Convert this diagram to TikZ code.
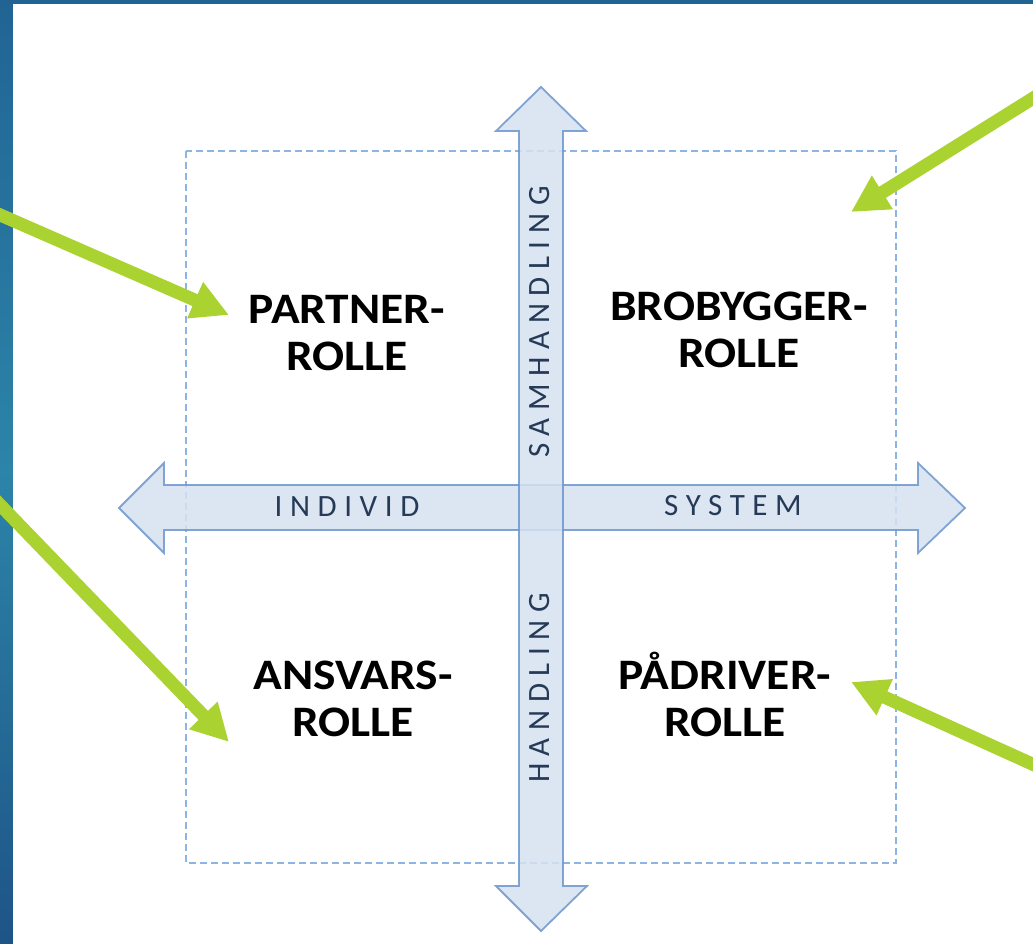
\documentclass[tikz,border=0pt]{standalone}
\usepackage{fontspec}
\setmainfont{Carlito}
\newfontfamily\axisfont[LetterSpace=24.5]{Carlito}
\usetikzlibrary{arrows.meta}
\definecolor{greenarrow}{RGB}{170,211,50}
\definecolor{blockfill}{RGB}{214,226,240}
\definecolor{blockline}{RGB}{108,150,205}
\definecolor{dashblue}{RGB}{141,180,226}
\definecolor{axistext}{RGB}{38,58,88}
\definecolor{bgtop}{RGB}{33,100,148}
\definecolor{bgmid}{RGB}{44,132,168}
\definecolor{bgbot}{RGB}{30,84,134}
\tikzset{
  pointer/.style={draw=greenarrow, line width=13pt, -{Triangle[length=37pt,width=37pt]}},
  blockarrow/.style={fill=blockfill, draw=blockline, line width=1.8pt, fill opacity=0.85, draw opacity=0.85, line join=miter},
  rolelabel/.style={font={\fontsize{43.5}{47}\selectfont\bfseries}, align=center, text=black, inner sep=0pt, xscale=1.09},
  axislabel/.style={font={\axisfont\fontsize{31}{31}\selectfont}, text=axistext, inner sep=0pt},
  quadframe/.style={draw=dashblue, line width=1.5pt, dash pattern=on 7pt off 4pt}
}
\begin{document}
\begin{tikzpicture}[x=1pt,y=-1pt]
\useasboundingbox (0,0) rectangle (1033,944);
\clip (0,0) rectangle (1033,944);
% background
\shade[top color=bgtop, bottom color=bgbot, middle color=bgmid] (0,0) rectangle (1033,944);
\fill[white] (13,4) rectangle (1033,944);
% dashed frame
\draw[quadframe] (186,151) rectangle (896,863);
% horizontal block arrow
\draw[blockarrow] (119,508) -- (164,463) -- (164,485) -- (918,485) -- (918,463) -- (965,508)
  -- (918,553) -- (918,530) -- (164,530) -- (164,553) -- cycle;
% vertical block arrow
\draw[blockarrow] (541,87) -- (586,131) -- (563,131) -- (563,886) -- (587,886) -- (541,931)
  -- (496,886) -- (519,886) -- (519,131) -- (496,131) -- cycle;
% axis labels
\node[axislabel] (individ) at (347,507) {INDIVID};
\node[axislabel] (system) at (733,506) {SYSTEM};
\node[axislabel, rotate=90] (samhandling) at (540,322) {SAMHANDLING};
\node[axislabel, rotate=90] (handling) at (540,688) {HANDLING};
% role labels (anchor base = baseline of the last line)
\node[rolelabel, anchor=base] (partner) at (347,370) {PARTNER-\\ROLLE};
\node[rolelabel, anchor=base] (brobygger) at (739,367) {BROBYGGER-\\ROLLE};
\node[rolelabel, anchor=base] (ansvars) at (353,736) {ANSVARS-\\ROLLE};
\node[rolelabel, anchor=base] (padriver) at (725,736) {PÅDRIVER-\\ROLLE};
% green pointers
\coordinate (p1s) at (-50,193);
\coordinate (p1e) at (229,315);
\coordinate (p2s) at (-50,453);
\coordinate (p2e) at (229,742);
\coordinate (p3s) at (1083,67);
\coordinate (p3e) at (851,212);
\coordinate (p4s) at (1083,787);
\coordinate (p4e) at (851,682);
\draw[pointer] (p1s) -- (p1e);
\draw[pointer] (p2s) -- (p2e);
\draw[pointer] (p3s) -- (p3e);
\draw[pointer] (p4s) -- (p4e);
\end{tikzpicture}
\end{document}
